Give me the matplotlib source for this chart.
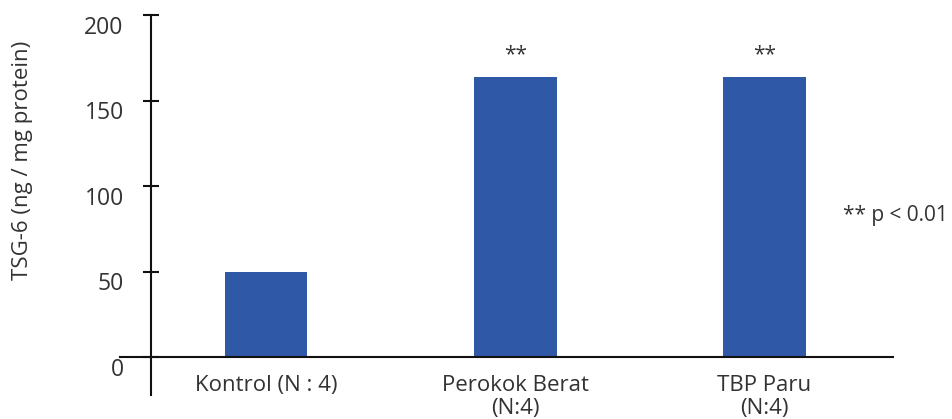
import numpy as np
import matplotlib.pyplot as plt
from matplotlib.transforms import ScaledTranslation

plt.rcParams['font.family'] = ['Open Sans', 'DejaVu Sans']

# data
groups = ['Kontrol (N : 4)', 'Perokok Berat\n(N:4)', 'TBP Paru\n(N:4)']
tsg6 = [50, 164, 164]
signif = ['', '**', '**']
yticks = [0, 50, 100, 150, 200]

bar_color = '#2f58a7'
text_color = '#333333'

fig = plt.figure(figsize=(9.52, 4.19), dpi=100)
ax = fig.add_axes([0.126, 0.0573, 0.812, 0.9069])

x = np.arange(len(groups))
bars = ax.bar(x, tsg6, width=0.33, color=bar_color, zorder=1)

for b, s in zip(bars, signif):
    if s:
        ax.annotate(s, (b.get_x() + b.get_width() / 2, b.get_height()),
                    xytext=(0, 8), textcoords='offset points',
                    ha='center', va='bottom', fontsize=15, color=text_color)

ax.set_xlim(-0.588, 2.516)
ax.set_ylim(-22.2, 200)

for side in ['top', 'right']:
    ax.spines[side].set_visible(False)
ax.spines['left'].set_position(('data', -0.464))
ax.spines['bottom'].set_position(('data', 0))
for side in ['left', 'bottom']:
    ax.spines[side].set_linewidth(1.5)
    ax.spines[side].set_color('#111111')
    ax.spines[side].set_zorder(3)

ax.set_yticks(yticks)
ax.tick_params(axis='y', direction='inout', length=11, width=1.5,
               labelsize=16.5, labelcolor=text_color, pad=14, color='#111111')
offset = ScaledTranslation(0, -7 / 72, fig.dpi_scale_trans)
for lab in ax.get_yticklabels():
    lab.set_transform(lab.get_transform() + offset)

ax.set_xticks(x)
ax.set_xticklabels(groups, linespacing=1.15)
ax.tick_params(axis='x', length=0, labelsize=16, labelcolor=text_color, pad=13)

ax.set_ylabel('TSG-6 (ng / mg protein)', fontsize=16, color=text_color)
ax.yaxis.set_label_coords(-0.112, 0.618)

fig.text(0.885, 0.486, '** p < 0.01', fontsize=15, color=text_color,
         ha='left', va='center')

fig.savefig('out.png', dpi=100)
